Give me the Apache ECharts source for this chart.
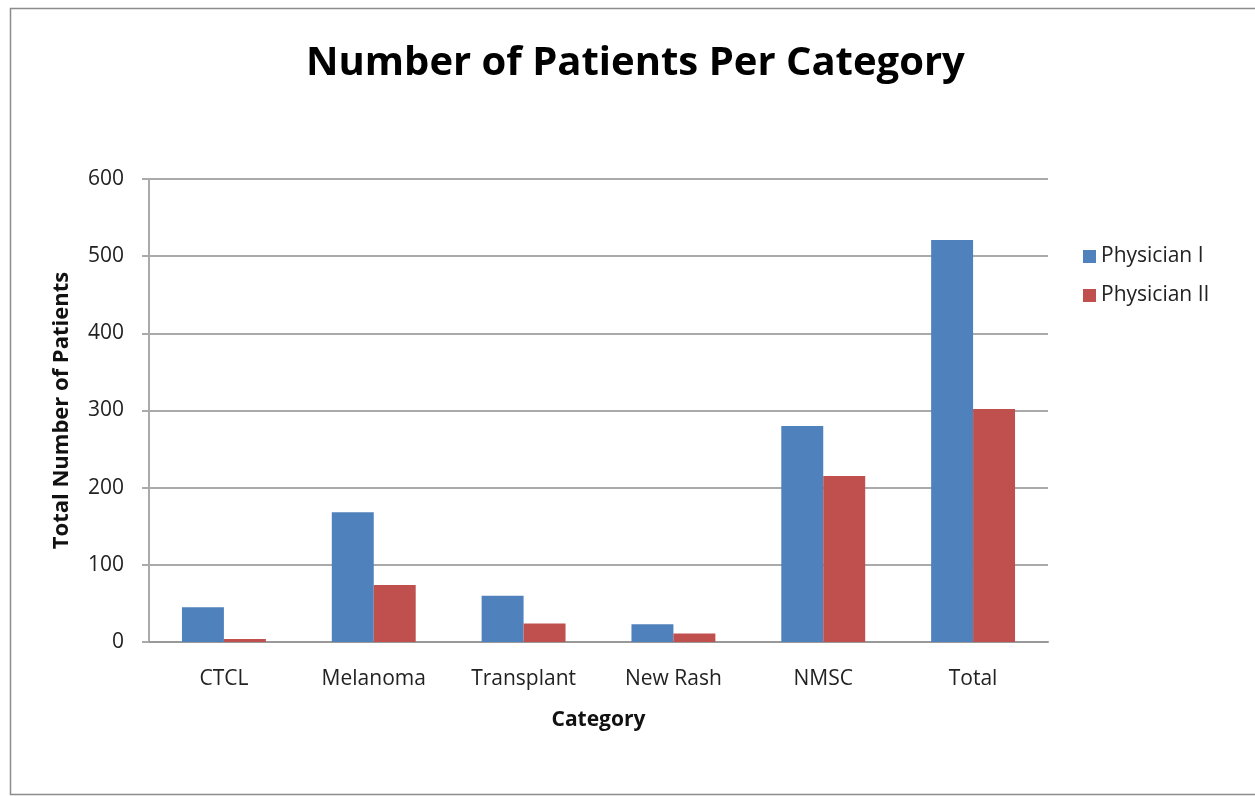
<!DOCTYPE html>
<html><head><meta charset="utf-8">
<script src="https://cdn.jsdelivr.net/npm/echarts@6/dist/echarts.min.js"></script>
<style>html,body{margin:0;padding:0;background:#fff}#c{width:1255px;height:796px}</style>
</head><body><div id="c"></div>
<script>
const categories = ['CTCL','Melanoma','Transplant','New Rash','NMSC','Total'];
const physician1 = [45, 168, 60, 23, 280, 521];
const physician2 = [4, 74, 24, 11, 215, 302];
const seriesNames = ['Physician I','Physician II'];
const yTicks = [0,100,200,300,400,500,600];

const font = '"Open Sans", "Noto Sans", sans-serif';
const chart = echarts.init(document.getElementById('c'));
chart.setOption({
  animation:false,
  backgroundColor:'#fff',
  graphic:[{type:'rect',shape:{x:10.5,y:8.5,width:1260,height:786},style:{fill:'none',stroke:'#8c8c8c',lineWidth:1.5},silent:true}],
  title:{text:'Number of Patients Per Category',left:301,top:39,
    textStyle:{fontFamily:font,fontWeight:'bold',fontSize:40,color:'#000'}},
  legend:{orient:'vertical',left:1078,top:241,itemWidth:13,itemHeight:13,itemGap:18,
    icon:'rect',textStyle:{fontFamily:font,fontSize:21,color:'#222'},data:seriesNames},
  grid:{left:149,right:207,top:179,bottom:154},
  xAxis:{type:'category',data:categories,name:'Category',nameLocation:'middle',nameGap:68,
    nameTextStyle:{fontFamily:font,fontWeight:'bold',fontSize:21,color:'#111'},
    axisLine:{lineStyle:{color:'#999',width:2}},axisTick:{show:false},
    axisLabel:{fontFamily:font,fontSize:21,color:'#222',margin:27}},
  yAxis:{type:'value',min:yTicks[0],max:yTicks[yTicks.length-1],interval:100,
    name:'Total Number of Patients',nameLocation:'middle',nameGap:76,
    nameTextStyle:{fontFamily:font,fontWeight:'bold',fontSize:22,color:'#111'},
    axisLine:{show:true,lineStyle:{color:'#aaa',width:2}},
    axisTick:{show:true,inside:false,length:7,lineStyle:{color:'#aaa',width:2}},
    axisLabel:{fontFamily:font,fontSize:21,color:'#222',margin:25},
    splitLine:{lineStyle:{color:'#aaa',width:2}}},
  series:[
    {name:seriesNames[0],type:'bar',data:physician1,barGap:'0%',barCategoryGap:'44%',itemStyle:{color:'#4F81BD'}},
    {name:seriesNames[1],type:'bar',data:physician2,barGap:'0%',barCategoryGap:'44%',itemStyle:{color:'#C0504D'}}
  ]
});
</script></body></html>
